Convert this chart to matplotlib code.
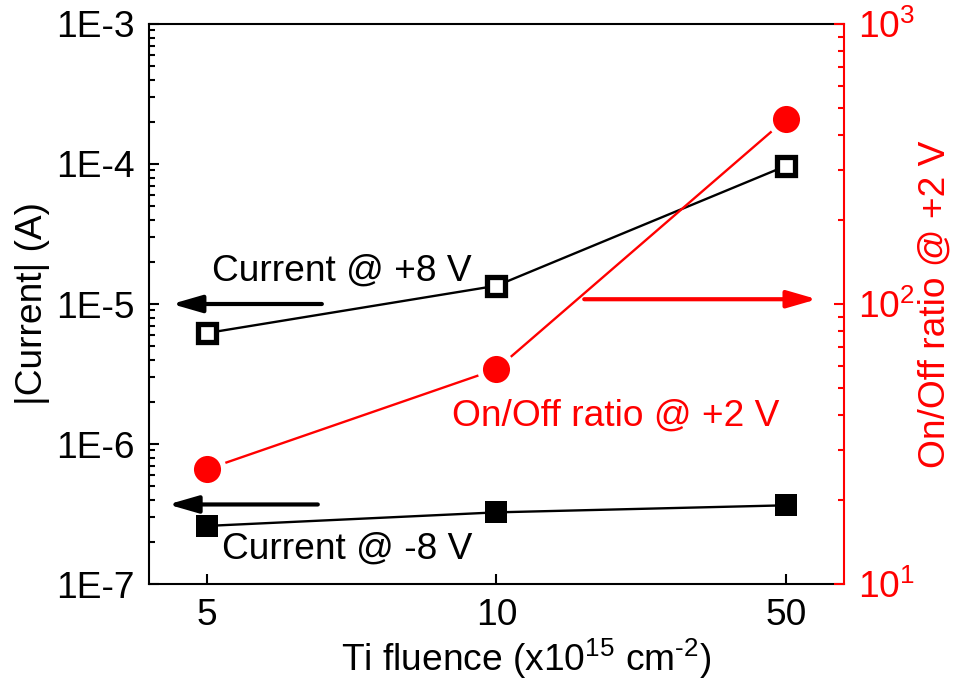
import numpy as np
import matplotlib
matplotlib.use("Agg")
import matplotlib.pyplot as plt
from matplotlib.ticker import FixedLocator, LogLocator, FuncFormatter, NullFormatter, NullLocator
from matplotlib.patches import ArrowStyle

plt.rcParams['font.family'] = ['Liberation Sans', 'DejaVu Sans']
plt.rcParams['mathtext.fontset'] = 'custom'
plt.rcParams['mathtext.rm'] = 'Liberation Sans'
plt.rcParams['mathtext.it'] = 'Liberation Sans:italic'
plt.rcParams['mathtext.bf'] = 'Liberation Sans:bold'

# ---- data ----
fluence_labels = ['5', '10', '50']
current_pos8 = [6.2e-6, 1.35e-5, 9.7e-5]      # |Current| @ +8 V (A)
current_neg8 = [2.6e-7, 3.25e-7, 3.65e-7]     # |Current| @ -8 V (A)
onoff_ratio = [25.7, 58.5, 458]               # On/Off ratio @ +2 V

FS = 26.7
RED = '#ff0000'

fig = plt.figure(figsize=(9.58, 6.85), dpi=100)
ax = fig.add_axes([0.1555, 0.1474, 0.7255, 0.8176])
ax2 = ax.twinx()

x = np.arange(len(fluence_labels))

# black series on left axis
ax.plot(x, current_pos8, color='black', lw=1.7, marker='s', ms=13,
        mfc='white', mec='black', mew=3.8, zorder=3)
ax.plot(x, current_neg8, color='black', lw=1.7, marker='s', ms=16.5,
        mfc='black', mec='black', mew=0, zorder=3)

# red series on right axis (line with gap around markers)
ax2.plot(x, onoff_ratio, color=RED, lw=1.7, zorder=2)
ax2.plot(x, onoff_ratio, ls='none', marker='o', ms=27.5, mfc='white', mec='none', zorder=3)
ax2.plot(x, onoff_ratio, ls='none', marker='o', ms=19.5, mfc=RED, mec='none', zorder=4)

ax.set_xlim(-0.2, 2.2)
ax.set_yscale('log')
ax.set_ylim(1e-7, 1e-3)
ax2.set_yscale('log')
ax2.set_ylim(10, 1000)

ax.set_xticks(x)
ax.set_xticklabels(fluence_labels)
ax.xaxis.set_minor_locator(NullLocator())

ax.yaxis.set_major_locator(FixedLocator([1e-7, 1e-6, 1e-5, 1e-4, 1e-3]))
ax.yaxis.set_minor_locator(LogLocator(base=10, subs=np.arange(2, 10), numticks=20))
ax.yaxis.set_major_formatter(FuncFormatter(lambda v, p: '1E%d' % int(round(np.log10(v)))))
ax.yaxis.set_minor_formatter(NullFormatter())

ax2.yaxis.set_major_locator(FixedLocator([10, 100, 1000]))
ax2.yaxis.set_minor_locator(LogLocator(base=10, subs=np.arange(2, 10), numticks=20))
ax2.yaxis.set_major_formatter(FuncFormatter(lambda v, p: r'$\mathregular{10^{%d}}$' % int(round(np.log10(v)))))
ax2.yaxis.set_minor_formatter(NullFormatter())

ax.tick_params(axis='both', which='major', direction='in', length=7.5, width=1.5,
               labelsize=FS, pad=10, top=False, right=False)
ax.tick_params(axis='y', which='minor', direction='in', length=4.5, width=1.5, right=False)
ax2.tick_params(axis='y', which='major', direction='in', length=7.5, width=1.5,
                labelsize=FS, pad=10, colors=RED)
ax2.tick_params(axis='y', which='minor', direction='in', length=4.5, width=1.5, colors=RED)

for s in ['left', 'bottom', 'top']:
    ax.spines[s].set_linewidth(1.5)
    ax.spines[s].set_color('black')
ax.spines['right'].set_visible(False)
for s in ['left', 'bottom', 'top']:
    ax2.spines[s].set_visible(False)
ax2.spines['right'].set_color(RED)
ax2.spines['right'].set_linewidth(1.5)

ax.set_xlabel(r'Ti fluence (x10$^{\mathregular{15}}$ cm$^{\text{-2}}$)', fontsize=FS, labelpad=3)
ax.xaxis.label.set_x(0.542)
ax.set_ylabel('|Current| (A)', fontsize=FS, labelpad=5)
ax2.set_ylabel('On/Off ratio @ +2 V', fontsize=FS, color=RED, labelpad=2)

# annotations
ax.text(0.017, 1.46e-5, 'Current @ +8 V', fontsize=FS, ha='left', va='baseline')
ax.text(0.052, 1.51e-7, 'Current @ -8 V', fontsize=FS, ha='left', va='baseline')
ax2.text(0.845, 36.7, 'On/Off ratio @ +2 V', fontsize=FS, ha='left', va='baseline', color=RED)

astyle = ArrowStyle('-|>', head_length=0.9, head_width=0.26)
ax.annotate('', xy=(-0.121, 1e-5), xytext=(0.397, 1e-5),
            arrowprops=dict(arrowstyle=astyle, lw=3, color='black', mutation_scale=20,
                            shrinkA=0, shrinkB=0))
ax.annotate('', xy=(-0.134, 3.7e-7), xytext=(0.383, 3.7e-7),
            arrowprops=dict(arrowstyle=astyle, lw=3, color='black', mutation_scale=20,
                            shrinkA=0, shrinkB=0))
ax2.annotate('', xy=(2.107, 104), xytext=(1.303, 104),
             arrowprops=dict(arrowstyle=astyle, lw=3, color=RED, mutation_scale=20,
                             shrinkA=0, shrinkB=0))

fig.savefig('out.png', dpi=100)
